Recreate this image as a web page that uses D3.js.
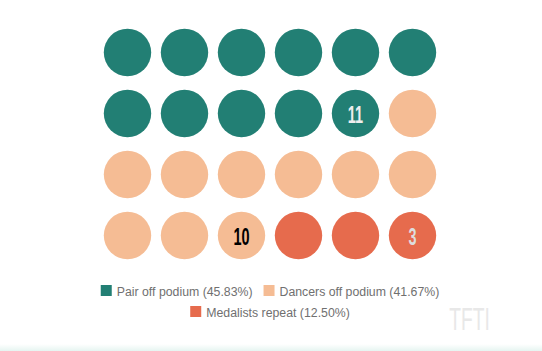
<!DOCTYPE html>
<html>
<head>
<meta charset="utf-8">
<script src="https://cdn.jsdelivr.net/npm/d3@7/dist/d3.min.js"></script>
<style>
  body { margin: 0; background: #fff; }
  svg { display: block; }
</style>
</head>
<body>
<div id="chart"></div>
<script>
// categories and counts
const categories = ["Pair off podium", "Dancers off podium", "Medalists repeat"];
const counts = [11, 10, 3];
const colors = ["#227f74", "#f5bc94", "#e66b4d"];
const labelColors = ["#eeeeee", "#000000", "#dddddd"];

const width = 542;
const height = 351;
const cols = 6;
const rows = 4;

const svg = d3.select("#chart").append("svg")
    .attr("width", width)
    .attr("height", height);

// faint strip at the bottom
const grad = svg.append("defs").append("linearGradient")
    .attr("id", "fade").attr("x1", 0).attr("y1", 0).attr("x2", 0).attr("y2", 1);
grad.append("stop").attr("offset", "0%").attr("stop-color", "#ffffff");
grad.append("stop").attr("offset", "100%").attr("stop-color", "#e6f5f1");
svg.append("rect").attr("x", 0).attr("y", 344).attr("width", width).attr("height", 7)
    .attr("fill", "url(#fade)");

// build one unit per circle
const total = d3.sum(counts);
const units = [];
counts.forEach((c, i) => {
    for (let k = 0; k < c; k++) {
        units.push({ cat: i, last: k === c - 1, count: c });
    }
});

const x = d3.scaleBand().domain(d3.range(cols)).range([99, 441]);
const y = d3.scaleBand().domain(d3.range(rows)).range([22, 266]);
const r = 23.7;

const cell = svg.append("g").selectAll("g")
    .data(units)
    .enter().append("g")
    .attr("transform", (d, i) => `translate(${x(i % cols) + x.bandwidth() / 2},${y(Math.floor(i / cols)) + y.bandwidth() / 2})`);

cell.append("circle")
    .attr("r", r)
    .attr("fill", d => colors[d.cat]);

// condensed-looking count labels
cell.filter(d => d.last).append("text")
    .attr("text-anchor", "middle")
    .attr("y", 9.6)
    .attr("transform", "scale(0.62,1)")
    .attr("font-family", "'Liberation Sans', Arial, sans-serif")
    .attr("font-weight", "bold")
    .attr("font-size", 23.3)
    .attr("fill", d => labelColors[d.cat])
    .text(d => d.count);

// legend
const legendRows = [[0, 1], [2]];
const legendY = [291, 312];
legendRows.forEach((row, ri) => {
    const g = svg.append("g");
    let cx = 0;
    row.forEach(ci => {
        const item = g.append("g").attr("transform", `translate(${cx},0)`);
        item.append("rect")
            .attr("x", 0).attr("y", -6)
            .attr("width", 11).attr("height", 11)
            .attr("fill", colors[ci]);
        const t = item.append("text")
            .attr("x", 16).attr("y", 4.5)
            .attr("font-family", "'Liberation Sans', Arial, sans-serif")
            .attr("font-size", 12.3)
            .attr("fill", "#707070")
            .text(`${categories[ci]} (${(counts[ci] / total * 100).toFixed(2)}%)`);
        cx += 16 + t.node().getComputedTextLength() + 11;
    });
    const w = cx - 11;
    g.attr("transform", `translate(${(width - w) / 2 - 1},${legendY[ri]})`);
});

// watermark
svg.append("text")
    .attr("x", 0).attr("y", 330)
    .attr("text-anchor", "middle")
    .attr("transform", "translate(469.5,0) scale(0.6,1)")
    .attr("font-family", "'Liberation Sans', Arial, sans-serif")
    .attr("font-size", 32)
    .attr("fill", "#e8e8e8")
    .text("TFTI");
</script>
</body>
</html>
